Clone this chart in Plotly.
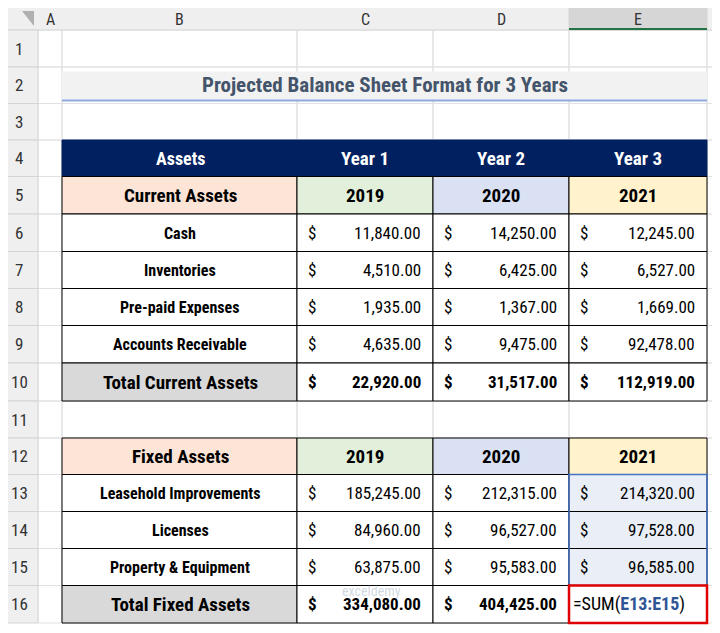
import plotly.graph_objects as go

title = "Projected Balance Sheet Format for 3 Years"
col_letters = ["A", "B", "C", "D", "E"]
year_heads = ["Year 1", "Year 2", "Year 3"]
years = ["2019", "2020", "2021"]
current_items = ["Cash", "Inventories", "Pre-paid Expenses", "Accounts Receivable"]
current_vals = [[11840, 14250, 12245], [4510, 6425, 6527], [1935, 1367, 1669], [4635, 9475, 92478]]
current_total = [22920, 31517, 112919]
fixed_items = ["Leasehold Improvements", "Licenses", "Property & Equipment"]
fixed_vals = [[185245, 212315, 214320], [84960, 96527, 97528], [63875, 95583, 96585]]
fixed_total = [334080, 404425]
formula = "=SUM(<b><span style='color:#2F5597'>E13:E15</span></b>)"

FONT = "Liberation Sans Narrow, Roboto Condensed, Arial Narrow, sans-serif"
colx = [0, 38, 62, 297, 433, 569, 707, 720]
rc = [49, 85, 122, 158, 195, 233, 270, 307, 344, 382, 420, 456, 493, 530, 567, 604]
rt = [30] + [(rc[i] + rc[i + 1]) / 2 for i in range(len(rc) - 1)] + [623]

shapes, ann = [], []
def rect(x0, y0, x1, y1, fill="rgba(0,0,0,0)", line="#D4D4D4", w=1):
    shapes.append(dict(type="rect", x0=x0, y0=y0, x1=x1, y1=y1, fillcolor=fill,
                       line=dict(color=line, width=w), layer="below"))
def text(x, y, t, size=13, color="black", bold=False, anchor="center"):
    if bold:
        t = "<b>" + t + "</b>"
    ann.append(dict(x=x, y=y, text=t, showarrow=False, xanchor=anchor, yanchor="middle",
                    font=dict(family=FONT, size=size, color=color)))
def money(v):
    return f"{v:,.2f}"

for i in range(1, 16 + 1):
    for c in range(1, 7):
        rect(colx[c], rt[i - 1], colx[c + 1], rt[i], line="#E1E1E1")
rect(0, 0, 720, 30, fill="#EFEFEF", line="#D4D4D4")
rect(569, 0, 707, 30, fill="#D6D6D6", line="#D4D4D4")
shapes.append(dict(type="line", x0=569, x1=707, y0=29, y1=29, line=dict(color="#217346", width=2)))
for i, L in enumerate(col_letters):
    text((colx[i + 1] + colx[i + 2]) / 2, 19.5, L, 16, "#333")
for i in range(16):
    rect(0, rt[i], 38, rt[i + 1], fill="#EFEFEF", line="#D4D4D4")
    text(19, rc[i], str(i + 1), 17, "#333")
shapes.append(dict(type="path", path="M 22 11 L 34 11 L 34 26 Z", fillcolor="#B0B0B0", line=dict(width=0)))

rect(62, rt[1] + 5, 707, rt[2] - 3, fill="#F2F2F2", line="#F2F2F2")
shapes.append(dict(type="line", x0=62, x1=707, y0=rt[2] - 3, y1=rt[2] - 3, line=dict(color="#8EA9DB", width=2)))
text(385, rc[1], title, 21, "#44546A", True)

fills = ["#E2EFDA", "#D9E1F2", "#FFF2CC"]
B = "#000000"
def vals_row(r, vals, bold=False):
    for j, v in enumerate(vals):
        x0 = colx[3 + j]; x1 = colx[4 + j]
        text(x0 + 9, rc[r], "$", 17, bold=bold, anchor="left")
        text(x1 - 10, rc[r], money(v), 17, bold=bold, anchor="right")

r = 3
for c in range(2, 6):
    rect(colx[c], rt[r], colx[c + 1], rt[r + 1], fill="#002060", line="#002060")
text(180, rc[r], "Assets", 18, "white", True)
for j in range(3):
    text((colx[3 + j] + colx[4 + j]) / 2, rc[r], year_heads[j], 19, "white", True)
r = 4
rect(62, rt[r], 297, rt[r + 1], fill="#FCE4D6", line=B)
text(180, rc[r], "Current Assets", 19, bold=True)
for j in range(3):
    rect(colx[3 + j], rt[r], colx[4 + j], rt[r + 1], fill=fills[j], line=B)
    text((colx[3 + j] + colx[4 + j]) / 2, rc[r], years[j], 19, bold=True)
for k, name in enumerate(current_items):
    r = 5 + k
    for c in range(2, 6):
        rect(colx[c], rt[r], colx[c + 1], rt[r + 1], fill="white", line=B)
    text(180, rc[r], name, 16, bold=True)
    vals_row(r, current_vals[k])
r = 9
rect(62, rt[r], 297, rt[r + 1], fill="#D9D9D9", line=B)
for c in range(3, 6):
    rect(colx[c], rt[r], colx[c + 1], rt[r + 1], fill="white", line=B)
text(180, rc[r], "Total Current Assets", 19, bold=True)
vals_row(r, current_total, bold=True)

r = 11
rect(62, rt[r], 297, rt[r + 1], fill="#FCE4D6", line=B)
text(180, rc[r], "Fixed Assets", 19, bold=True)
for j in range(3):
    rect(colx[3 + j], rt[r], colx[4 + j], rt[r + 1], fill=fills[j], line=B)
    text((colx[3 + j] + colx[4 + j]) / 2, rc[r], years[j], 19, bold=True)
for k, name in enumerate(fixed_items):
    r = 12 + k
    for c in range(2, 6):
        rect(colx[c], rt[r], colx[c + 1], rt[r + 1], fill="#E9EEF7" if c == 5 else "white", line=B)
    text(180, rc[r], name, 16, bold=True)
    vals_row(r, fixed_vals[k])
rect(569, rt[12], 707, rt[15], line="#4472C4", w=1.5)
r = 15
rect(62, rt[r], 297, rt[r + 1], fill="#D9D9D9", line=B)
for c in range(3, 6):
    rect(colx[c], rt[r], colx[c + 1], rt[r + 1], fill="white", line=B)
text(180, rc[r], "Total Fixed Assets", 19, bold=True)
vals_row(r, fixed_total, bold=True)
rect(569, rt[r], 707, rt[r + 1], line="#E00000", w=2.5)
text(571, rc[r], formula, 18, anchor="left")
text(340, rt[r] + 5, "exceldemy", 14, "rgba(120,140,170,0.35)", anchor="left")

fig = go.Figure()
fig.update_layout(width=712, height=625, margin=dict(l=0, r=0, t=0, b=0),
                  plot_bgcolor="white", paper_bgcolor="white", shapes=shapes, annotations=ann,
                  xaxis=dict(range=[8, 720], visible=False, fixedrange=True),
                  yaxis=dict(range=[633, 8], visible=False, fixedrange=True), showlegend=False)
fig.write_html("out.html")
